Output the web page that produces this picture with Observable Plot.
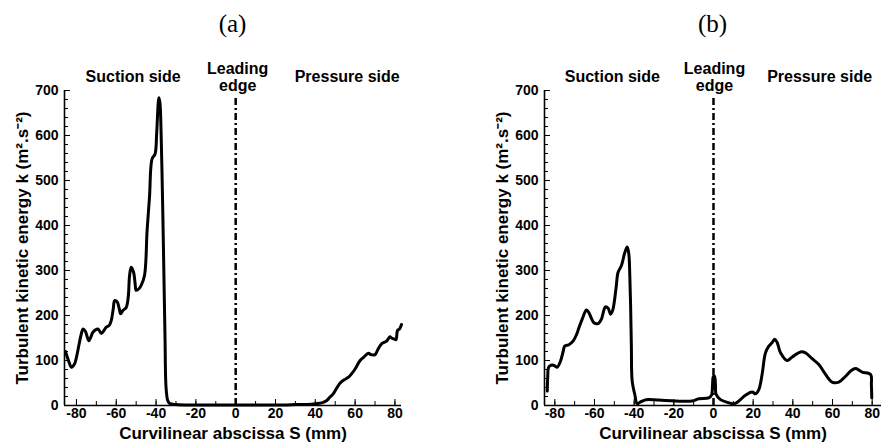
<!DOCTYPE html>
<html>
<head>
<meta charset="utf-8">
<script src="https://cdn.jsdelivr.net/npm/d3@7"></script>
<script src="https://cdn.jsdelivr.net/npm/@observablehq/plot@0.6"></script>
<style>
  html, body { margin: 0; padding: 0; background: #fff; }
  #wrap { display: flex; width: 882px; height: 445px; overflow: hidden; }
  .panel { width: 441px; position: relative; }
  .title { position: absolute; top: 10px; font-family: "Liberation Serif", "DejaVu Serif", serif; font-size: 25px; color: #000; transform: translateX(-50%); white-space: nowrap; }
  .panel svg { position: absolute; top: 45px; left: 0; }
</style>
</head>
<body>
<div id="wrap"></div>
<script>
// Panel (a): curvilinear abscissa S (mm) and turbulent kinetic energy k
const sA = [-85.5,-84,-82.5,-81,-80,-78.5,-77.5,-76.7,-75.5,-73.8,-72.5,-71.7,-69.2,-67.5,-66,-65,-63.5,-62.5,-61.5,-60.8,-59.5,-58.5,-57.8,-56.7,-55,-54,-53.3,-52.5,-51.3,-50.5,-50,-48.5,-47.5,-45.8,-44.5,-43.3,-42,-40.5,-39.7,-38.8,-38.5,-38,-37.5,-36.8,-36.3,-35.5,-35,-34.2,-33.3,-30,-20,-10,0,10,20,30,38,42,44,45.8,47,49,50.5,52.5,54.5,56.7,58.5,60,62.5,64.5,66.7,68,70,71.5,73.3,75.8,77.5,78.3,79.5,80.5,81.3,82.3,83.3];
const kA = [120,100,85,92,107,140,160,170,165,144,155,163,170,160,168,174,178,189,215,233,230,215,204,211,218,240,289,307,296,270,256,260,267,289,389,463,548,559,604,678,684,670,611,470,352,150,41,12,5,2,1,1,1,1,1,2,3,5,7,11,17,26,37,50,57,63,72,81,100,108,116,113,113,125,137,143,153,150,148,146,167,170,180];

// Panel (b)
const sB = [-83.8,-83.6,-83.2,-82.5,-81.3,-80,-78.8,-77.1,-75.8,-75,-72.9,-70.8,-69,-67.9,-66.2,-64.5,-64,-62.9,-61.5,-60.3,-58.2,-56.5,-55.5,-54.5,-53.1,-51.9,-50.8,-49.1,-48.1,-46.4,-44.7,-43.5,-42.7,-42.2,-41.8,-41.4,-41,-39.7,-38.5,-36.8,-34,-27.6,-19.2,-10.8,-7.4,-2.4,-1,-0.5,-0.2,0.3,0.7,1,1.3,3.5,7.7,10.3,12.8,16.1,19.5,21.2,22.9,24.5,26.2,27.9,29.6,30.9,32.1,33.8,37.1,39.7,43.9,46.4,49.7,53.1,56.5,59.8,63.2,66.6,69.5,71.6,73.5,75,79.2,79.6,79.8];
const kB = [32,60,84,88,90,88,85,99,120,132,135,143,158,172,192,210,212,207,193,184,182,192,208,219,216,203,212,262,296,311,340,352,337,290,225,130,54,25,4,8,13,12,10,10,15,17,23,45,63,66,62,45,25,13,6,4,10,23,30,26,36,69,117,132,140,147,140,117,100,108,119,117,104,91,69,52,52,65,78,82,78,74,69,45,17];

const xTicks = [-80,-60,-40,-20,0,20,40,60,80];
const xMinorTicks = [-80,-70,-60,-50,-40,-30,-20,-10,0,10,20,30,40,50,60,70,80];
const yTicks = [0,100,200,300,400,500,600,700];
const yMinorTicks = [0,20,40,60,80,100,120,140,160,180,200,220,240,260,280,300,320,340,360,380,400,420,440,460,480,500,520,540,560,580,600,620,640,660,680,700];
const annotLabels = ["Suction side", "Leading\nedge", "Pressure side"];
const leadingEdgeS = [0];
const leadingEdgeTop = 684;
const titles = ["(a)", "(b)"];
const xLabel = "Curvilinear abscissa S (mm)";
const yLabel = "Turbulent kinetic energy k (m².s⁻²)";

function panel(title, S, K, xDomain, marginLeft, marginRight, annX) {
  const data = S.map((s, i) => ({s, k: K[i]}));
  const ann = annotLabels.map((t, i) => ({t, x: annX[i]}));
  const font = {fontFamily: "Liberation Sans, Arial, sans-serif", fontWeight: "bold"};
  const plot = Plot.plot({
    width: 441,
    height: 400,
    marginTop: 45,
    marginBottom: 40,
    marginLeft,
    marginRight,
    style: {fontFamily: "Liberation Sans, Arial, sans-serif", color: "#000", background: "transparent", overflow: "visible"},
    x: {domain: xDomain},
    y: {domain: [0, 700]},
    marks: [
      Plot.axisX({ticks: xMinorTicks, tickSize: -4, tickFormat: () => "", label: null, strokeWidth: 1}),
      Plot.axisX({ticks: xTicks, tickSize: -6, tickPadding: 9, tickFormat: d => String(d), label: null, fontSize: 14, ...font, strokeWidth: 1}),
      Plot.axisY({ticks: yMinorTicks, tickSize: -4, tickFormat: () => "", label: null, strokeWidth: 1}),
      Plot.axisY({ticks: yTicks, tickSize: -6, tickPadding: 12, tickFormat: d => String(d), label: null, fontSize: 14, ...font, strokeWidth: 1}),
      Plot.ruleY([0], {strokeWidth: 1.6}),
      Plot.ruleX([xDomain[0]], {y1: 0, y2: 700, strokeWidth: 1.6}),
      Plot.ruleX(leadingEdgeS, {y1: 0, y2: leadingEdgeTop, strokeWidth: 2.5, strokeDasharray: "7,3,2,3"}),
      Plot.line(data, {x: "s", y: "k", strokeWidth: 3, curve: "catmull-rom", stroke: "#000"}),
      Plot.text(ann, {x: "x", y: 730, text: "t", fontSize: 16, lineHeight: 1.05, lineAnchor: "middle", ...font}),
      Plot.text([yLabel], {frameAnchor: "left", rotate: -90, dx: -42, fontSize: 17, textAnchor: "middle", lineAnchor: "middle", ...font}),
      Plot.text([xLabel], {frameAnchor: "bottom", dy: 28, fontSize: 17, textAnchor: "middle", lineAnchor: "middle", ...font})
    ]
  });
  const div = document.createElement("div");
  div.className = "panel";
  const t = document.createElement("div");
  t.className = "title";
  t.textContent = title;
  t.style.left = (marginLeft + (441 - marginLeft - marginRight) / 2) + "px";
  div.appendChild(t);
  div.appendChild(plot);
  return div;
}

const wrap = document.getElementById("wrap");
wrap.appendChild(panel(titles[0], sA, kA, [-86, 83.3], 64, 40, [-51.5, 1, 56]));
wrap.appendChild(panel(titles[1], sB, kB, [-85.2, 84.7], 103, 1, [-51, 0.5, 53.5]));
</script>
</body>
</html>
